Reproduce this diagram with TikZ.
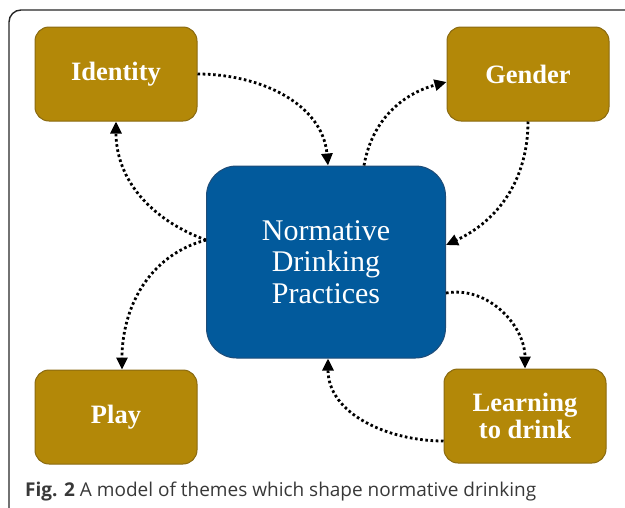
\documentclass[tikz,border=0pt]{standalone}
\usepackage{fontspec}
\setmainfont{Liberation Serif}
\newfontfamily\capfont{Open Sans}
\usetikzlibrary{shapes, arrows.meta, positioning, calc}
\definecolor{themegold}{HTML}{B38808}
\definecolor{themeedge}{HTML}{8A6A10}
\definecolor{coreblue}{HTML}{025A9C}
\definecolor{coreedge}{HTML}{1E4C78}

\begin{document}
\begin{tikzpicture}[x=1pt, y=-1pt,
        theme/.style={rectangle, rounded corners=14pt, draw=themeedge, line width=1pt, fill=themegold, minimum width=162pt, minimum height=94pt, align=center, text=white, font=\fontsize{26.5}{27}\selectfont\bfseries},
        core/.style={rectangle, rounded corners=30pt, draw=coreedge, line width=1pt, fill=coreblue, minimum width=239pt, minimum height=192pt, align=center, text=white, font=\fontsize{30}{31.5}\selectfont},
        link/.style={line width=2.8pt, dash pattern=on 2.6pt off 2.6pt, -{Triangle[length=12pt, width=11pt]}, draw=black}
    ]
        \useasboundingbox (0,0) rectangle (625,507);
        \clip (0,0) rectangle (625,507);
        % outer frame, running off the page at right and bottom
        \draw[line width=1.4pt, draw=black!85, rounded corners=12pt] (9,10) rectangle (660,540);

        % Themes around the core
        \node[core] (core) at (326, 262) {Normative\\Drinking\\Practices};
        \node[theme] (identity) at (116, 74) {Identity};
        \node[theme] (gender) at (528, 74) {Gender};
        \node[theme] (play) at (116, 417) {Play};
        \node[theme] (learning) at (525, 416) {Learning\\to drink};

        % Connections
        \draw[link] (identity.east) to[out=0, in=95] ([xshift=2pt]core.north);
        \draw[link] ([xshift=38pt]core.north) to[out=80, in=195] ([yshift=-8pt]gender.west);
        \draw[link] (gender.south) to[out=-90, in=25] ([yshift=17pt]core.east);
        \draw[link] ([yshift=-31pt]core.east) to[out=10, in=90] (learning.north);
        \draw[link] ([yshift=-25pt]learning.west) to[out=180, in=-90] ([xshift=2pt]core.south);
        \draw[link] ([yshift=22pt]core.west) to[out=195, in=90] ([xshift=6pt]play.north);
        \draw[link] ([yshift=22pt]core.west) to[out=160, in=-90] (identity.south);

        % Caption
        \node[anchor=west, inner sep=0pt, font=\capfont\fontsize{19}{21}\selectfont, text=black!78] (caption) at (25, 492) {\textbf{Fig. 2} A model of themes which shape normative drinking};
    \end{tikzpicture}
\end{document}
